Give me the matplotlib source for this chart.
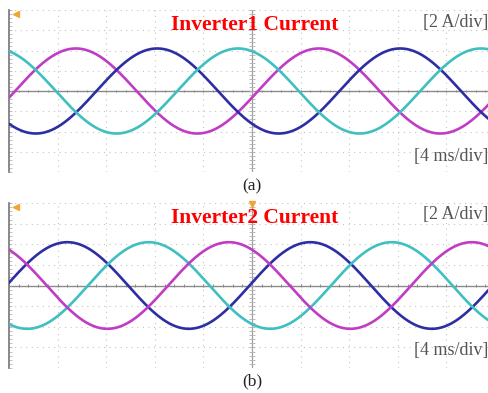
import matplotlib.pyplot as plt
import numpy as np

plt.rcParams['font.family'] = ['Liberation Serif', 'DejaVu Serif']

W, H = 489, 393

# scope settings
ms_per_div = 4
amp_per_div = 2
n_div_x = 10
freq_hz = 50

# phase currents: peak amplitude (A) and time of first peak (ms)
inv1_amp = 4.2
inv1_peak_ms = {'magenta': 5.5, 'blue': 12.2, 'cyan': 18.85}
inv2_amp = 4.2
inv2_peak_ms = {'blue': 4.8, 'cyan': 11.5, 'magenta': 18.1}

trace_colors = {'magenta': '#c03cc4', 'blue': '#2e2ea4', 'cyan': '#3fbfbf'}

panel_titles = ['Inverter1 Current', 'Inverter2 Current']
panel_tags = ['(a)', '(b)']


def px_box(x0, y_top, x1, y_bot):
    return [x0 / W, 1 - y_bot / H, (x1 - x0) / W, (y_bot - y_top) / H]


def scope_axes(fig, box, y_bottom_div):
    ax = fig.add_axes(box)
    ax.patch.set_alpha(0)
    t_max = n_div_x * ms_per_div
    ax.set_xlim(0, t_max)
    ax.set_ylim(y_bottom_div * amp_per_div, 4 * amp_per_div)
    for s in ['top', 'right', 'bottom']:
        ax.spines[s].set_visible(False)
    ax.spines['left'].set_color('#757575')
    ax.spines['left'].set_linewidth(1.2)
    ax.set_xticks([])
    ax.set_yticks(np.arange(-4, 4.01, 0.2) * amp_per_div)
    ax.tick_params(axis='y', direction='in', length=2, width=0.5,
                   color='#a8a8a8', labelleft=False)

    # dotted division grid
    for k in range(1, n_div_x):
        if k == n_div_x // 2:
            continue
        ax.axvline(k * ms_per_div, color='#c4c4c4', lw=0.8,
                   ls=(0, (1, 4)), zorder=0)
    for k in range(-3, 5):
        if k == 0:
            continue
        ax.axhline(k * amp_per_div, color='#c4c4c4', lw=0.8,
                   ls=(0, (1, 4)), zorder=0)

    # centre cross with sub-division ticks
    ax.axhline(0, color='#8a8a8a', lw=1.0, zorder=1)
    ax.axvline(t_max / 2, color='#a0a0a0', lw=0.9, zorder=1)
    sub_t = np.arange(0, t_max + 0.01, ms_per_div / 5)
    ax.vlines(sub_t, -0.12, 0.12, color='#8a8a8a', lw=0.7, zorder=1)
    sub_a = np.arange(-4, 4.01, 0.2) * amp_per_div
    ax.hlines(sub_a, t_max / 2 - 0.25, t_max / 2 + 0.25,
              color='#b0b0b0', lw=0.6, zorder=1)
    return ax


def draw_phases(ax, amp, peaks):
    t = np.linspace(0, n_div_x * ms_per_div * 1.05, 1200)
    w = 2 * np.pi * freq_hz / 1000.0
    for name, tp in peaks.items():
        ax.plot(t, amp * np.cos(w * (t - tp)), color=trace_colors[name],
                lw=1.9, solid_capstyle='round', zorder=3)


fig = plt.figure(figsize=(W / 100, H / 100), dpi=100)

ax1 = scope_axes(fig, px_box(9, 10, 495, 172), -(172 - 97) / 22)
draw_phases(ax1, inv1_amp, inv1_peak_ms)
ax2 = scope_axes(fig, px_box(9, 203, 495, 368), -(368 - 287) / 21)
draw_phases(ax2, inv2_amp, inv2_peak_ms)

# trigger markers
for ax in (ax1, ax2):
    ax.plot([0.014], [0.975], marker='<', ms=5, color='#f2a531',
            transform=ax.transAxes, clip_on=False, zorder=5)
ax2.plot([0.5], [0.995], marker='v', ms=4, color='#f2a531',
         transform=ax2.transAxes, clip_on=False, zorder=5)


def ftext(x, y, s, **kw):
    fig.text(x / W, 1 - y / H, s, va='center', **kw)


for (y_title, y_scale, y_time, y_tag), title, tag in zip(
        [(25, 22, 157, 186), (218, 215, 350, 381)], panel_titles, panel_tags):
    ftext(255, y_title, title, ha='center', color='#ff0000',
          fontsize=15.5, fontweight='bold')
    ftext(488, y_scale, '[2 A/div]', ha='right', color='#555555', fontsize=13)
    ftext(488, y_time, '[4 ms/div]', ha='right', color='#555555', fontsize=13)
    ftext(252, y_tag, tag, ha='center', color='#222222', fontsize=12.5)

fig.savefig('out.png', dpi=100)
